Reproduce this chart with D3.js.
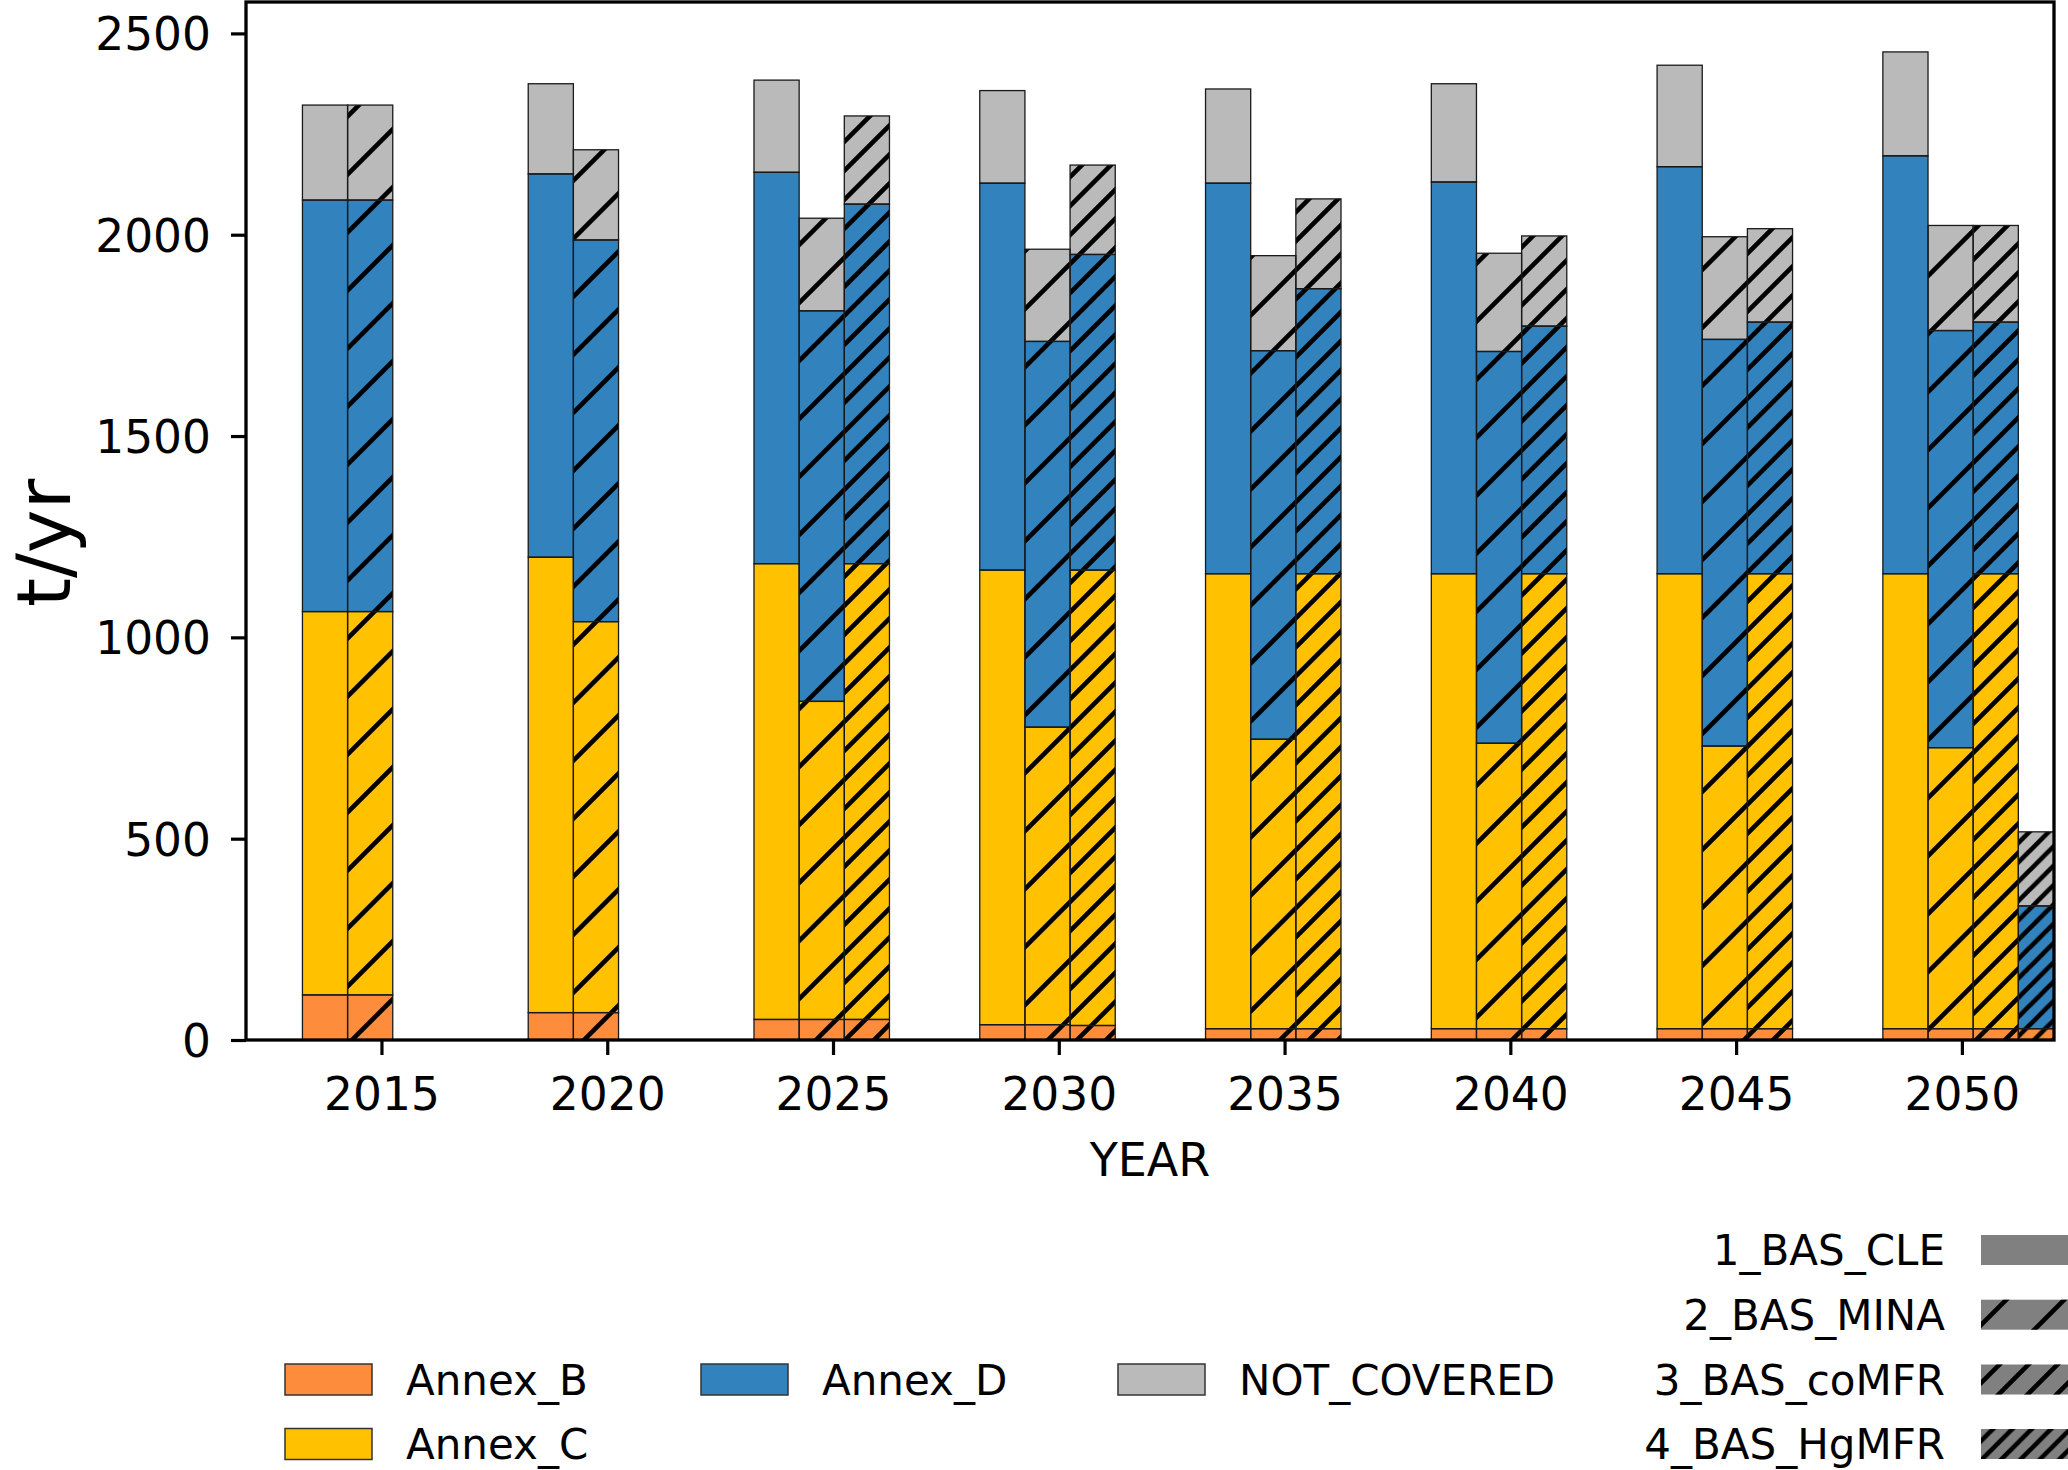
<!DOCTYPE html>
<html>
<head>
<meta charset="utf-8">
<script src="https://cdn.jsdelivr.net/npm/d3@7"></script>
<style>
  body { margin: 0; background: #fff; }
  text { font-family: "DejaVu Sans", sans-serif; fill: #000; }
</style>
</head>
<body>
<div id="chart"></div>
<script>
// years on the x axis
var years = [2015, 2020, 2025, 2030, 2035, 2040, 2045, 2050];
var scenarios = ["1_BAS_CLE", "2_BAS_MINA", "3_BAS_coMFR", "4_BAS_HgMFR"];
var hatchCount = [0, 1, 2, 3];   // number of "/" in the hatch of each scenario
var categories = ["Annex_B", "Annex_C", "Annex_D", "NOT_COVERED"];
var colors = ["#fd8d3c", "#ffc100", "#3182bd", "#bababa"];
var yTicks = [0, 500, 1000, 1500, 2000, 2500];

// rows = scenarios, columns = years (t/yr)
var annexB = [
  [112, 68, 51, 38, 28, 28, 28, 28],
  [112, 68, 51, 38, 28, 28, 28, 28],
  [0, 0, 51, 36, 28, 28, 28, 28],
  [0, 0, 0, 0, 0, 0, 0, 28]
];
var annexC = [
  [952, 1131, 1132, 1129, 1130, 1130, 1130, 1130],
  [952, 971, 790, 739, 719, 709, 702, 698],
  [0, 0, 1132, 1131, 1130, 1130, 1130, 1130],
  [0, 0, 0, 0, 0, 0, 0, 0]
];
var annexD = [
  [1022, 952, 972, 961, 970, 973, 1011, 1038],
  [1022, 948, 970, 958, 965, 973, 1010, 1036],
  [0, 0, 893, 784, 708, 615, 625, 625],
  [0, 0, 0, 0, 0, 0, 0, 305]
];
var notCovered = [
  [236, 224, 229, 230, 234, 244, 252, 258],
  [236, 224, 230, 229, 236, 244, 255, 261],
  [0, 0, 219, 222, 223, 224, 232, 240],
  [0, 0, 0, 0, 0, 0, 0, 184]
];
var series = [annexB, annexC, annexD, notCovered];

var W = 2068, H = 1470;
var plot = {left: 246, right: 2054, top: 2, bottom: 1040};

var svg = d3.select("#chart").append("svg")
  .attr("width", W).attr("height", H);

var x = d3.scaleLinear().domain([2012, 2052.04]).range([plot.left, plot.right]);
var y = d3.scaleLinear().domain([0, 2578]).range([plot.bottom, plot.top]);

// hatch patterns, anchored to the page so lines run on across bars
var defs = svg.append("defs");
var baseGap = 58;
[1, 2, 3].forEach(function(n) {
  var s = baseGap / n;
  defs.append("pattern")
    .attr("id", "hatch" + n)
    .attr("patternUnits", "userSpaceOnUse")
    .attr("width", s).attr("height", s)
    .append("path")
    .attr("d", "M0," + s + "L" + s + ",0" +
               "M" + (-s / 4) + "," + (s / 4) + "L" + (s / 4) + "," + (-s / 4) +
               "M" + (3 * s / 4) + "," + (5 * s / 4) + "L" + (5 * s / 4) + "," + (3 * s / 4))
    .attr("stroke", "#000").attr("stroke-width", 4.6).attr("fill", "none");
});
defs.append("clipPath").attr("id", "plotclip")
  .append("rect")
  .attr("x", plot.left).attr("y", plot.top)
  .attr("width", plot.right - plot.left).attr("height", plot.bottom - plot.top);

// stack the categories for each scenario / year
var rects = [];
scenarios.forEach(function(sc, si) {
  years.forEach(function(yr, yi) {
    var base = 0;
    series.forEach(function(ser, ci) {
      var v = ser[si][yi];
      if (v > 0) {
        rects.push({sc: si, year: yr, cat: ci, y0: base, y1: base + v});
      }
      base += v;
    });
  });
});

var bars = svg.append("g").attr("clip-path", "url(#plotclip)");
var barX = function(d) { return x(d.year + d.sc - 1.75); };
var barW = x(2013) - x(2012);

bars.selectAll("rect.fill").data(rects).enter().append("rect")
  .attr("class", "fill")
  .attr("x", barX)
  .attr("y", function(d) { return y(d.y1); })
  .attr("width", barW)
  .attr("height", function(d) { return y(d.y0) - y(d.y1); })
  .attr("fill", function(d) { return colors[d.cat]; });

bars.selectAll("rect.hatch").data(rects.filter(function(d) { return hatchCount[d.sc] > 0; }))
  .enter().append("rect")
  .attr("class", "hatch")
  .attr("x", barX)
  .attr("y", function(d) { return y(d.y1); })
  .attr("width", barW)
  .attr("height", function(d) { return y(d.y0) - y(d.y1); })
  .attr("fill", function(d) { return "url(#hatch" + hatchCount[d.sc] + ")"; });

bars.selectAll("rect.edge").data(rects).enter().append("rect")
  .attr("class", "edge")
  .attr("x", barX)
  .attr("y", function(d) { return y(d.y1); })
  .attr("width", barW)
  .attr("height", function(d) { return y(d.y0) - y(d.y1); })
  .attr("fill", "none")
  .attr("stroke", "#1a1a1a").attr("stroke-width", 1.3);

// axes
var xAxis = d3.axisBottom(x).tickValues(years).tickFormat(d3.format("d"))
  .tickSize(15).tickPadding(20);
var gx = svg.append("g").attr("transform", "translate(0," + plot.bottom + ")").call(xAxis);
gx.select(".domain").remove();
gx.selectAll("line").attr("stroke", "#000").attr("stroke-width", 3.2);
gx.selectAll("text").style("font-size", "45.5px").attr("fill", "#000")
  .attr("dy", "0.76em");

var yAxis = d3.axisLeft(y).tickValues(yTicks).tickFormat(d3.format("d"))
  .tickSize(15).tickPadding(20);
var gy = svg.append("g").attr("transform", "translate(" + plot.left + ",0)").call(yAxis);
gy.select(".domain").remove();
gy.selectAll("line").attr("stroke", "#000").attr("stroke-width", 3.2);
gy.selectAll("text").style("font-size", "45.5px").attr("fill", "#000")
  .attr("dy", "0.36em");

// frame
svg.append("rect")
  .attr("x", plot.left).attr("y", plot.top)
  .attr("width", plot.right - plot.left).attr("height", plot.bottom - plot.top)
  .attr("fill", "none").attr("stroke", "#000").attr("stroke-width", 3.3);

// axis labels
svg.append("text")
  .attr("x", 1150).attr("y", 1176)
  .attr("text-anchor", "middle")
  .style("font-size", "46px")
  .text("YEAR");

svg.append("text")
  .attr("transform", "translate(70,543) rotate(-90)")
  .attr("text-anchor", "middle")
  .style("font-size", "74px")
  .text("t/yr");

// legend of the categories (3 columns, filled by column)
var legRows = [1379.5, 1444];
var legCols = [285, 701, 1118];
var legItems = categories.map(function(c, i) {
  var col = i < 2 ? 0 : i - 1;
  var row = i < 2 ? i : 0;
  return {name: c, color: colors[i], x: legCols[col], y: legRows[row]};
});
var leg = svg.append("g");
leg.selectAll("rect").data(legItems).enter().append("rect")
  .attr("x", function(d) { return d.x; })
  .attr("y", function(d) { return d.y - 15.5; })
  .attr("width", 87).attr("height", 31)
  .attr("fill", function(d) { return d.color; })
  .attr("stroke", "#333").attr("stroke-width", 1.5);
leg.selectAll("text").data(legItems).enter().append("text")
  .attr("x", function(d) { return d.x + 121; })
  .attr("y", function(d) { return d.y + 15; })
  .style("font-size", "42px")
  .text(function(d) { return d.name; });

// legend of the scenarios (hatches)
var scRows = [1250, 1314.7, 1379.5, 1444];
var leg2 = svg.append("g");
scenarios.forEach(function(sc, i) {
  leg2.append("text")
    .attr("x", 1945).attr("y", scRows[i] + 15)
    .attr("text-anchor", "end")
    .style("font-size", "42px")
    .text(sc);
  leg2.append("rect")
    .attr("x", 1981).attr("y", scRows[i] - 15)
    .attr("width", 90).attr("height", 30)
    .attr("fill", "#808080");
  if (hatchCount[i] > 0) {
    leg2.append("rect")
      .attr("x", 1981).attr("y", scRows[i] - 15)
      .attr("width", 90).attr("height", 30)
      .attr("fill", "url(#hatch" + hatchCount[i] + ")");
  }
});
</script>
</body>
</html>
